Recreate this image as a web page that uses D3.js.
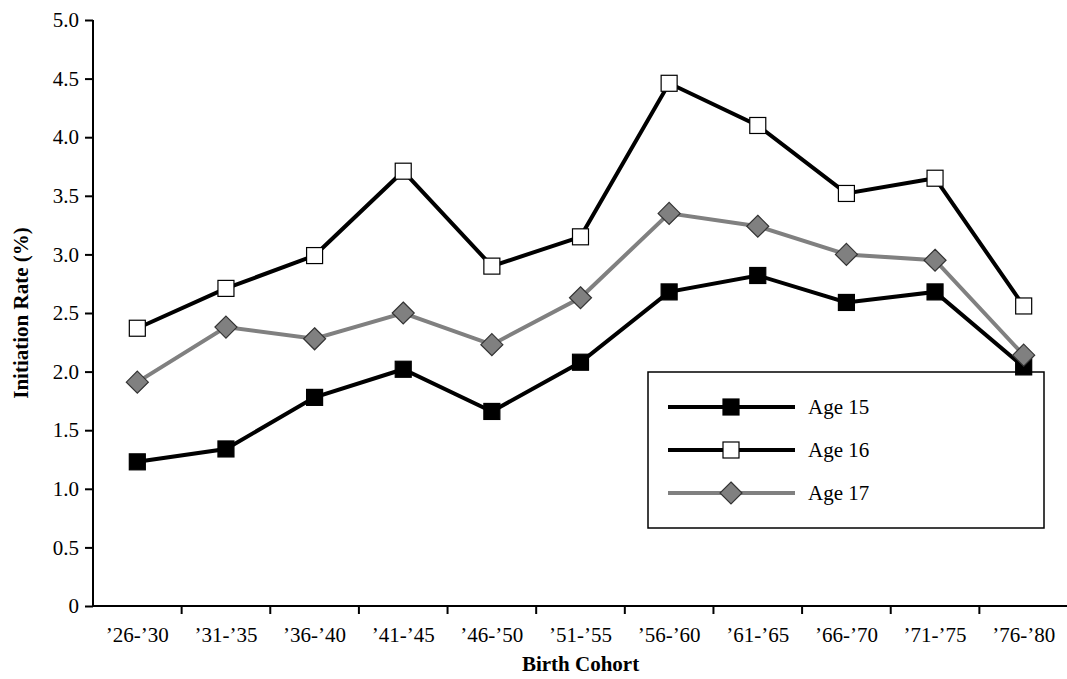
<!doctype html>
<html lang="en">
<head>
<meta charset="UTF-8">
<script src="https://d3js.org/d3.v7.min.js"></script>
<style>
  body { margin: 0; background: white; }
  svg { display: block; }
  text { font-family: "Liberation Serif", "Times New Roman", serif; fill: black; }
</style>
</head>
<body>
<svg width="1067" height="679"></svg>
<script>
const cohorts = ["\u201926-\u201930", "\u201931-\u201935", "\u201936-\u201940", "\u201941-\u201945", "\u201946-\u201950",
  "\u201951-\u201955", "\u201956-\u201960", "\u201961-\u201965", "\u201966-\u201970", "\u201971-\u201975", "\u201976-\u201980"];
const age15 = [1.23, 1.34, 1.78, 2.02, 1.66, 2.08, 2.68, 2.82, 2.59, 2.68, 2.04];
const age16 = [2.37, 2.71, 2.99, 3.71, 2.90, 3.15, 4.46, 4.10, 3.52, 3.65, 2.56];
const age17 = [1.91, 2.38, 2.28, 2.50, 2.23, 2.63, 3.35, 3.24, 3.00, 2.95, 2.14];
const yTicks = [0, 0.5, 1, 1.5, 2, 2.5, 3, 3.5, 4, 4.5, 5];

const series = [
  { name: "Age 15", values: age15, line: "#000", fill: "#000", stroke: "#000", shape: "square" },
  { name: "Age 16", values: age16, line: "#000", fill: "#fff", stroke: "#000", shape: "square" },
  { name: "Age 17", values: age17, line: "#808080", fill: "#808080", stroke: "#333", shape: "diamond" }
];

const svg = d3.select("svg");
const mLeft = 93, mRight = 1068, mTop = 20, mBottom = 606;
const fs = "21px";

const x = d3.scaleBand().domain(cohorts).range([mLeft, mRight]);
const y = d3.scaleLinear().domain([0, 5]).range([mBottom, mTop]);

// y axis
const ya = svg.append("g").attr("transform", `translate(${mLeft},0)`)
  .call(d3.axisLeft(y).tickValues(yTicks).tickSize(8).tickPadding(6)
    .tickFormat(d => d === 0 ? "0" : d3.format(".1f")(d)));
ya.selectAll("text").style("font-size", fs);
ya.selectAll("line, path").attr("stroke", "#000").attr("stroke-width", 2);
ya.select("path").attr("d", `M0,${mTop}V${mBottom}`);

// x axis, ticks between categories
const xa = svg.append("g").attr("transform", `translate(0,${mBottom})`);
xa.append("line").attr("x1", mLeft).attr("x2", mRight - 1).attr("stroke", "#000").attr("stroke-width", 2);
xa.selectAll(".tk").data(cohorts).enter().append("line")
  .attr("x1", d => x(d) + x.bandwidth()).attr("x2", d => x(d) + x.bandwidth())
  .attr("y1", 0).attr("y2", 8).attr("stroke", "#000").attr("stroke-width", 2);
xa.selectAll(".lb").data(cohorts).enter().append("text")
  .attr("x", d => x(d) + x.bandwidth() / 2).attr("y", 36)
  .attr("text-anchor", "middle").style("font-size", fs).text(d => d);

svg.append("text").attr("x", (mLeft + mRight) / 2).attr("y", 671).attr("text-anchor", "middle")
  .style("font-size", fs).style("font-weight", "bold").text("Birth Cohort");
svg.append("text").attr("transform", `translate(28,${(mTop + mBottom) / 2}) rotate(-90)`)
  .attr("text-anchor", "middle").style("font-size", fs).style("font-weight", "bold")
  .text("Initiation Rate (%)");

const cx = d => x(d) + x.bandwidth() / 2;
const line = d3.line().x((v, i) => cx(cohorts[i])).y(v => y(v));

function marker(g, s, px, py) {
  if (s.shape === "square") {
    g.append("rect").attr("x", px - 8).attr("y", py - 8).attr("width", 16).attr("height", 16)
      .attr("fill", s.fill).attr("stroke", s.stroke).attr("stroke-width", 1.2);
  } else {
    g.append("path").attr("d", `M${px},${py - 11}L${px + 11},${py}L${px},${py + 11}L${px - 11},${py}Z`)
      .attr("fill", s.fill).attr("stroke", s.stroke).attr("stroke-width", 1.2);
  }
}

// legend (drawn first so the series sit above its frame)
const lg = svg.append("g");
lg.append("rect").attr("x", 648).attr("y", 372).attr("width", 396).attr("height", 156)
  .attr("fill", "#fff").attr("stroke", "#000").attr("stroke-width", 1.5);
series.forEach((s, i) => {
  const ly = 407 + i * 43;
  lg.append("line").attr("x1", 668).attr("x2", 795).attr("y1", ly).attr("y2", ly)
    .attr("stroke", s.line).attr("stroke-width", 4);
  marker(lg, s, 731, ly);
  lg.append("text").attr("x", 808).attr("y", ly + 7).style("font-size", fs).text(s.name);
});

series.forEach(s => {
  svg.append("path").datum(s.values).attr("d", line).attr("fill", "none")
    .attr("stroke", s.line).attr("stroke-width", 4);
  const g = svg.append("g");
  s.values.forEach((v, i) => marker(g, s, cx(cohorts[i]), y(v)));
});
</script>
</body>
</html>
